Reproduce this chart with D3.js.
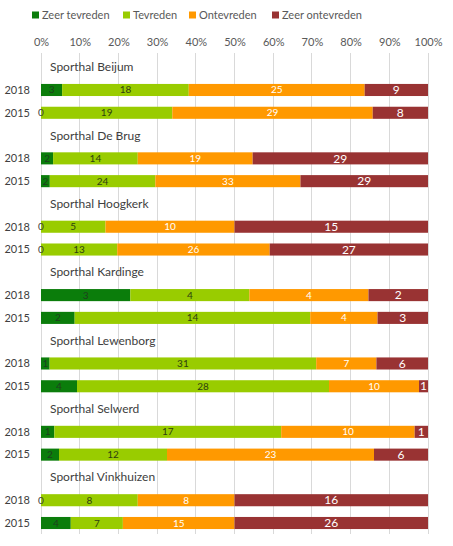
<!DOCTYPE html>
<html>
<head>
<meta charset="utf-8">
<script src="https://cdn.jsdelivr.net/npm/d3@7"></script>
<style>
  html, body { margin: 0; padding: 0; background: #fff; }
  svg { display: block; font-family: "Segoe UI", Lato, "Open Sans", sans-serif; }
</style>
</head>
<body>
<svg id="chart" width="453" height="546"></svg>
<script>
// ---- data ----
const halls = ["Sporthal Beijum", "Sporthal De Brug", "Sporthal Hoogkerk", "Sporthal Kardinge",
               "Sporthal Lewenborg", "Sporthal Selwerd", "Sporthal Vinkhuizen"];
const years = ["2018", "2015"];
const seriesNames = ["Zeer tevreden", "Tevreden", "Ontevreden", "Zeer ontevreden"];
const seriesColors = ["#0b7d0b", "#99cc00", "#ff9900", "#993333"];
const labelColors = ["#1f3f1f", "#2f3f10", "#ffffff", "#ffffff"];
// counts per hall, [2018, 2015], each [zeer tevreden, tevreden, ontevreden, zeer ontevreden]
const zeerTevreden    = [[3, 0], [2, 2], [0, 0], [3, 2], [1, 4], [1, 2], [0, 4]];
const tevreden        = [[18, 19], [14, 24], [5, 13], [4, 14], [31, 28], [17, 12], [8, 7]];
const ontevreden      = [[25, 29], [19, 33], [10, 26], [4, 4], [7, 10], [10, 23], [8, 15]];
const zeerOntevreden  = [[9, 8], [29, 29], [15, 27], [2, 3], [6, 1], [1, 6], [16, 26]];
const tickValues = [0, 0.1, 0.2, 0.3, 0.4, 0.5, 0.6, 0.7, 0.8, 0.9, 1.0];

// ---- build rows ----
const seriesArrays = [zeerTevreden, tevreden, ontevreden, zeerOntevreden];
const rows = [];
halls.forEach((h, hi) => {
  rows.push({ key: h + "|title", type: "title", hall: h });
  years.forEach((y, yi) => {
    const vals = seriesArrays.map(a => a[hi][yi]);
    rows.push({ key: h + "|" + y, type: "bar", hall: h, year: y, vals });
  });
});

const svg = d3.select("#chart");
const margin = { left: 41, right: 25, top: 55.8, bottom: 11.6 };
const W = 453, H = 546;

const x = d3.scaleLinear().domain([0, 1]).range([margin.left, W - margin.right]);
const y = d3.scaleBand().domain(rows.map(r => r.key))
  .range([margin.top, H - margin.bottom]).paddingInner(0.47).paddingOuter(0.235);

// gridlines
svg.append("g").selectAll("line").data(tickValues).join("line")
  .attr("x1", d => x(d)).attr("x2", d => x(d))
  .attr("y1", 53).attr("y2", 534)
  .attr("stroke", "#d9d9d9").attr("stroke-width", 1)
  .attr("shape-rendering", "crispEdges");

// top axis
const axis = d3.axisTop(x).tickValues(tickValues).tickFormat(d3.format(".0%")).tickSize(0).tickPadding(0);
const ax = svg.append("g").attr("transform", "translate(0,46)").call(axis);
ax.select(".domain").remove();
ax.selectAll("text").attr("fill", "#595959").attr("font-size", 11)
  .attr("font-family", "\"Segoe UI\", Lato, \"Open Sans\", sans-serif");

// legend
const legendX = [32, 123, 189, 272];
const lg = svg.append("g").selectAll("g").data(seriesNames).join("g")
  .attr("transform", (d, i) => `translate(${legendX[i]},15)`);
lg.append("rect").attr("x", 0).attr("y", -3.5).attr("width", 7).attr("height", 7)
  .attr("fill", (d, i) => seriesColors[i]);
lg.append("text").attr("x", 10).attr("y", 0).attr("dy", "0.35em")
  .attr("font-size", 11).attr("fill", "#595959").text(d => d);

// titles
svg.append("g").selectAll("text").data(rows.filter(r => r.type === "title")).join("text")
  .attr("x", 50).attr("y", d => y(d.key) + y.bandwidth() / 2 + 4)
  .attr("font-size", 12).attr("fill", "#404040").text(d => d.hall);

// year labels
svg.append("g").selectAll("text").data(rows.filter(r => r.type === "bar")).join("text")
  .attr("x", 30).attr("y", d => y(d.key) + y.bandwidth() / 2).attr("dy", "0.35em")
  .attr("text-anchor", "end").attr("font-size", 11).attr("fill", "#404040").text(d => d.year);

// bars
const barRows = rows.filter(r => r.type === "bar");
const segs = [];
barRows.forEach(r => {
  const total = d3.sum(r.vals);
  let cum = 0;
  r.vals.forEach((v, i) => {
    segs.push({ row: r, i, v, x0: cum / total, x1: (cum + v) / total });
    cum += v;
  });
});

svg.append("g").selectAll("rect").data(segs).join("rect")
  .attr("x", d => x(d.x0)).attr("width", d => x(d.x1) - x(d.x0))
  .attr("y", d => y(d.row.key)).attr("height", y.bandwidth())
  .attr("fill", d => seriesColors[d.i]);

svg.append("g").selectAll("text").data(segs).join("text")
  .attr("x", d => (x(d.x0) + x(d.x1)) / 2)
  .attr("y", d => y(d.row.key) + y.bandwidth() / 2).attr("dy", "0.35em")
  .attr("text-anchor", "middle")
  .attr("font-size", d => d.i === 3 ? 12 : 10)
  .attr("fill", d => d.v === 0 ? "#404040" : labelColors[d.i])
  .text(d => d.v);
</script>
</body>
</html>
